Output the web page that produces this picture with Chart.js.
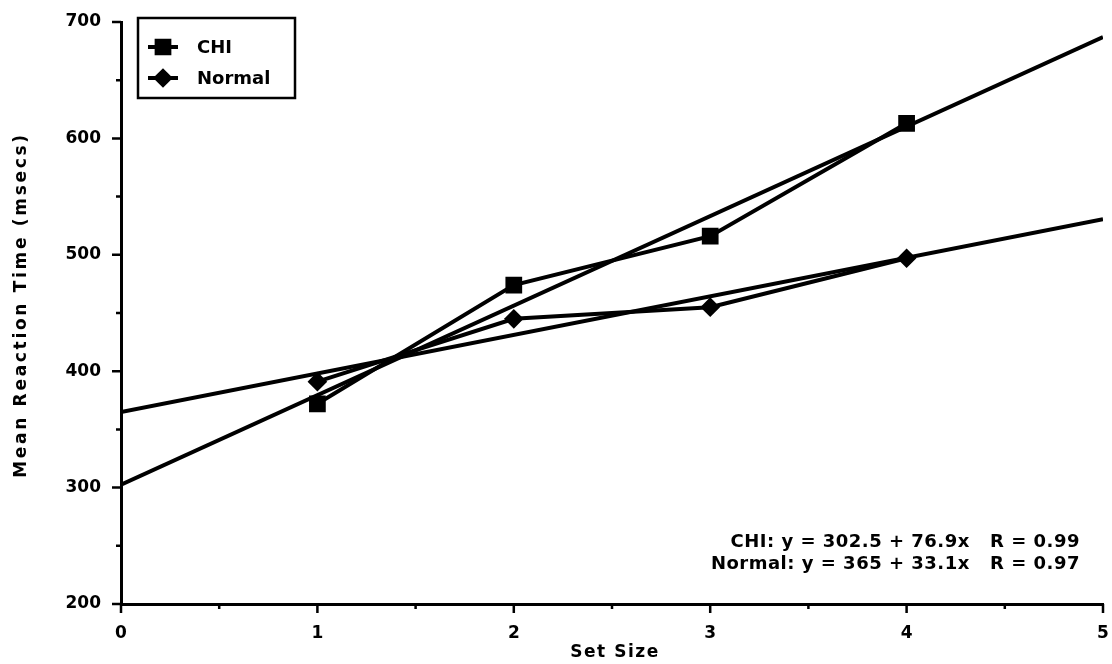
<!DOCTYPE html>
<html>
<head>
<meta charset="utf-8">
<title>Mean Reaction Time by Set Size</title>
<script src="https://cdn.jsdelivr.net/npm/chart.js@4.4.0/dist/chart.umd.min.js"></script>
<style>
    body { margin: 0; background: #fff; }
    #wrap { width: 1112px; height: 664px; }
</style>
</head>
<body>
<div id="wrap"><canvas id="rtChart" width="1112" height="664"></canvas></div>
<script>
// --- DATA ---
const setSizes = [1, 2, 3, 4];
const chiRT = [372, 474, 516, 613];
const normalRT = [391, 445, 455, 497];

// fitted lines, end points at set size 0 and 5
const fitX = [0, 5];
const chiFit = [302.5, 687];
const normalFit = [365, 530.5];

const fitLabels = [
    'CHI: y = 302.5 + 76.9x   R = 0.99',
    'Normal: y = 365 + 33.1x   R = 0.97'
];
const xTitle = 'Set Size';
const yTitle = 'Mean Reaction Time (msecs)';

const FONT = "'DejaVu Sans', 'Liberation Sans', Arial, sans-serif";

function toPoints(xs, ys) {
    return xs.map((x, i) => ({ x: x, y: ys[i] }));
}

// --- TICK MARKS (major + minor, drawn outside the axes) ---
const tickMarks = {
    id: 'tickMarks',
    afterDraw(chart) {
        const ctx = chart.ctx;
        const xs = chart.scales.x;
        const ys = chart.scales.y;
        ctx.save();
        ctx.strokeStyle = '#000';
        ctx.lineWidth = 2.5;
        ctx.beginPath();
        ys.ticks.forEach(t => {
            const py = ys.getPixelForValue(t.value);
            const len = t.value % 100 === 0 ? 9 : 5;
            ctx.moveTo(xs.left - len, py);
            ctx.lineTo(xs.left, py);
        });
        xs.ticks.forEach(t => {
            const px = xs.getPixelForValue(t.value);
            const len = Number.isInteger(t.value) ? 9 : 5;
            ctx.moveTo(px, ys.bottom);
            ctx.lineTo(px, ys.bottom + len);
        });
        ctx.stroke();
        ctx.restore();
    }
};

// --- AXIS TITLES (drawn by hand for the wide letter spacing) ---
const axisTitles = {
    id: 'axisTitles',
    afterDraw(chart) {
        const ctx = chart.ctx;
        ctx.save();
        ctx.fillStyle = '#000';
        ctx.font = 'bold 17px ' + FONT;
        ctx.letterSpacing = '1.5px';
        ctx.textAlign = 'center';
        ctx.textBaseline = 'middle';
        ctx.fillText(xTitle, 615, 653);
        ctx.translate(22, 305);
        ctx.rotate(-Math.PI / 2);
        ctx.letterSpacing = '2.7px';
        ctx.fillText(yTitle, 0, 0);
        ctx.restore();
    }
};

// --- BOXED LEGEND, top left ---
const boxLegend = {
    id: 'boxLegend',
    afterDraw(chart) {
        const ctx = chart.ctx;
        const items = chart.data.datasets.filter(d => d.inLegend);
        ctx.save();
        ctx.strokeStyle = '#000';
        ctx.lineWidth = 2.5;
        ctx.strokeRect(138, 18, 157, 80);
        items.forEach((d, i) => {
            const y = 47 + i * 31;
            ctx.lineWidth = 4;
            ctx.beginPath();
            ctx.moveTo(148, y);
            ctx.lineTo(178, y);
            ctx.stroke();
            ctx.fillStyle = '#000';
            Chart.helpers.drawPoint(ctx, {
                pointStyle: d.pointStyle, radius: d.pointRadius, rotation: 0, borderWidth: 1
            }, 163, y);
            ctx.font = 'bold 18px ' + FONT;
            ctx.textBaseline = 'middle';
            ctx.textAlign = 'left';
            ctx.fillText(d.label, 197, y + 1);
        });
        ctx.restore();
    }
};

// --- REGRESSION EQUATIONS, bottom right ---
const fitText = {
    id: 'fitText',
    afterDraw(chart) {
        const ctx = chart.ctx;
        ctx.save();
        ctx.fillStyle = '#000';
        ctx.font = 'bold 18px ' + FONT;
        ctx.letterSpacing = '0.5px';
        ctx.textAlign = 'right';
        ctx.textBaseline = 'middle';
        fitLabels.forEach((s, i) => {
            ctx.fillText(s, 1080, 542 + i * 22);
        });
        ctx.restore();
    }
};

const ctx = document.getElementById('rtChart').getContext('2d');
new Chart(ctx, {
    type: 'scatter',
    data: {
        datasets: [
            {
                label: 'CHI', inLegend: true,
                data: toPoints(setSizes, chiRT),
                showLine: true, borderColor: '#000', borderWidth: 4,
                pointStyle: 'rect', pointRadius: 9,
                pointBackgroundColor: '#000', pointBorderColor: '#000'
            },
            {
                label: 'Normal', inLegend: true,
                data: toPoints(setSizes, normalRT),
                showLine: true, borderColor: '#000', borderWidth: 4,
                pointStyle: 'rectRot', pointRadius: 7,
                pointBackgroundColor: '#000', pointBorderColor: '#000'
            },
            {
                label: 'CHI fit',
                data: toPoints(fitX, chiFit),
                showLine: true, borderColor: '#000', borderWidth: 4, pointRadius: 0
            },
            {
                label: 'Normal fit',
                data: toPoints(fitX, normalFit),
                showLine: true, borderColor: '#000', borderWidth: 4, pointRadius: 0
            }
        ]
    },
    options: {
        responsive: false,
        animation: false,
        layout: { autoPadding: false, padding: { top: 22, right: 9, left: 0, bottom: 0 } },
        plugins: {
            legend: { display: false },
            tooltip: { enabled: false }
        },
        scales: {
            x: {
                type: 'linear', min: 0, max: 5,
                afterFit: s => { s.height = 60; },
                // invisible tick marks only push the labels down; real ticks come from the plugin
                grid: { display: true, drawOnChartArea: false, drawTicks: true, tickLength: 19, tickColor: 'transparent' },
                border: { display: true, color: '#000', width: 3 },
                ticks: {
                    stepSize: 0.5, padding: 0, color: '#000',
                    font: { family: FONT, size: 17, weight: 'bold' },
                    callback: v => Number.isInteger(v) ? v : ''
                },
                title: { display: false }
            },
            y: {
                min: 200, max: 700,
                afterFit: s => { s.width = 121; },
                grid: { display: true, drawOnChartArea: false, drawTicks: true, tickLength: 17, tickColor: 'transparent' },
                border: { display: true, color: '#000', width: 3 },
                ticks: {
                    stepSize: 50, padding: 3, color: '#000',
                    font: { family: FONT, size: 17, weight: 'bold' },
                    callback: v => v % 100 === 0 ? v : ''
                },
                title: { display: false }
            }
        }
    },
    plugins: [tickMarks, axisTitles, boxLegend, fitText]
});
</script>
</body>
</html>
